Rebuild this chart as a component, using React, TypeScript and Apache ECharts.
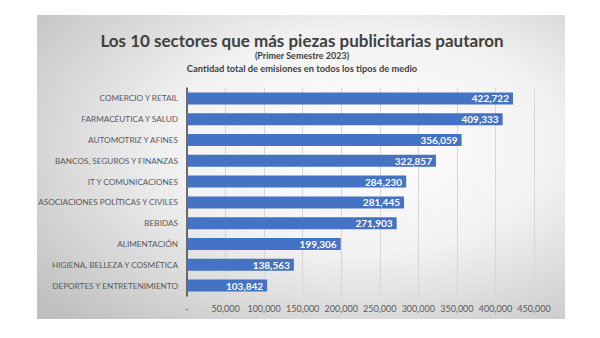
import React, { useEffect, useRef } from "react";
import * as echarts from "echarts";

const categories = [
  "COMERCIO Y RETAIL",
  "FARMACÉUTICA Y SALUD",
  "AUTOMOTRIZ Y AFINES",
  "BANCOS, SEGUROS Y FINANZAS",
  "IT Y COMUNICACIONES",
  "ASOCIACIONES POLÍTICAS Y CIVILES",
  "BEBIDAS",
  "ALIMENTACIÓN",
  "HIGIENA, BELLEZA Y COSMÉTICA",
  "DEPORTES Y ENTRETENIMIENTO",
];
const values = [422722, 409333, 356059, 322857, 284230, 281445, 271903, 199306, 138563, 103842];
const xTickLabels = ["-", "50,000", "100,000", "150,000", "200,000", "250,000", "300,000", "350,000", "400,000", "450,000"];
const xStep = 50000;
const xMax = 450000;

const titleText = "Los 10 sectores que más piezas publicitarias pautaron";
const subtitle1 = "(Primer Semestre 2023)";
const subtitle2 = "Cantidad total de emisiones en todos los tipos de medio";

const FONT = "Lato, 'Open Sans', sans-serif";

export default function App() {
  const ref = useRef<HTMLDivElement>(null);
  useEffect(() => {
    if (!ref.current) return;
    const chart = echarts.init(ref.current, undefined, { renderer: "svg" });
    chart.setOption({
      animation: false,
      backgroundColor: "#ffffff",
      textStyle: { fontFamily: FONT },
      graphic: [
        {
          type: "rect",
          z: -10,
          silent: true,
          shape: { x: 37, y: 15, width: 528, height: 304 },
          style: {
            fill: new echarts.graphic.RadialGradient(0.62, 0.42, 0.8, [
              { offset: 0, color: "#ffffff" },
              { offset: 0.45, color: "#f2f2f2" },
              { offset: 1, color: "#c0c0c0" },
            ]),
          },
        },
        {
          type: "text",
          x: 302,
          y: 40,
          style: { text: titleText, font: `bold 17px ${FONT}`, lineHeight: 17, fill: "#404040", align: "center", verticalAlign: "middle" },
        },
        {
          type: "text",
          x: 302,
          y: 55.5,
          style: { text: subtitle1, font: `bold 9px ${FONT}`, lineHeight: 10, fill: "#404040", align: "center", verticalAlign: "middle" },
        },
        {
          type: "text",
          x: 302,
          y: 68,
          style: { text: subtitle2, font: `bold 9.3px ${FONT}`, lineHeight: 10, fill: "#404040", align: "center", verticalAlign: "middle" },
        },
      ],
      grid: { left: 187, right: 66, top: 88, bottom: 42, containLabel: false },
      xAxis: {
        type: "value",
        min: 0,
        max: xMax,
        interval: xStep,
        axisLine: { show: false },
        axisTick: { show: false },
        splitLine: { show: true, lineStyle: { color: "#d6d6d6", width: 1 } },
        axisLabel: {
          color: "#595959",
          fontSize: 9,
          margin: 8,
          formatter: (v: number) => xTickLabels[Math.round(v / xStep)] ?? "",
        },
      },
      yAxis: {
        type: "category",
        inverse: true,
        data: categories,
        axisLine: { show: true, lineStyle: { color: "#404040", width: 1.5 } },
        axisTick: { show: false },
        axisLabel: { color: "#595959", fontSize: 8.2, margin: 9 },
      },
      series: [
        {
          type: "bar",
          data: values,
          barWidth: 12,
          itemStyle: { color: "#4472C4" },
          label: {
            show: true,
            position: "insideRight",
            distance: 4,
            color: "#ffffff",
            fontWeight: "bold",
            fontSize: 10,
            formatter: (p: any) => Number(p.value).toLocaleString("en-US"),
          },
        },
      ],
    });
    return () => chart.dispose();
  }, []);
  return (
    <div
      ref={ref}
      style={{ position: "fixed", left: 0, top: 0, width: 600, height: 338 }}
    />
  );
}
